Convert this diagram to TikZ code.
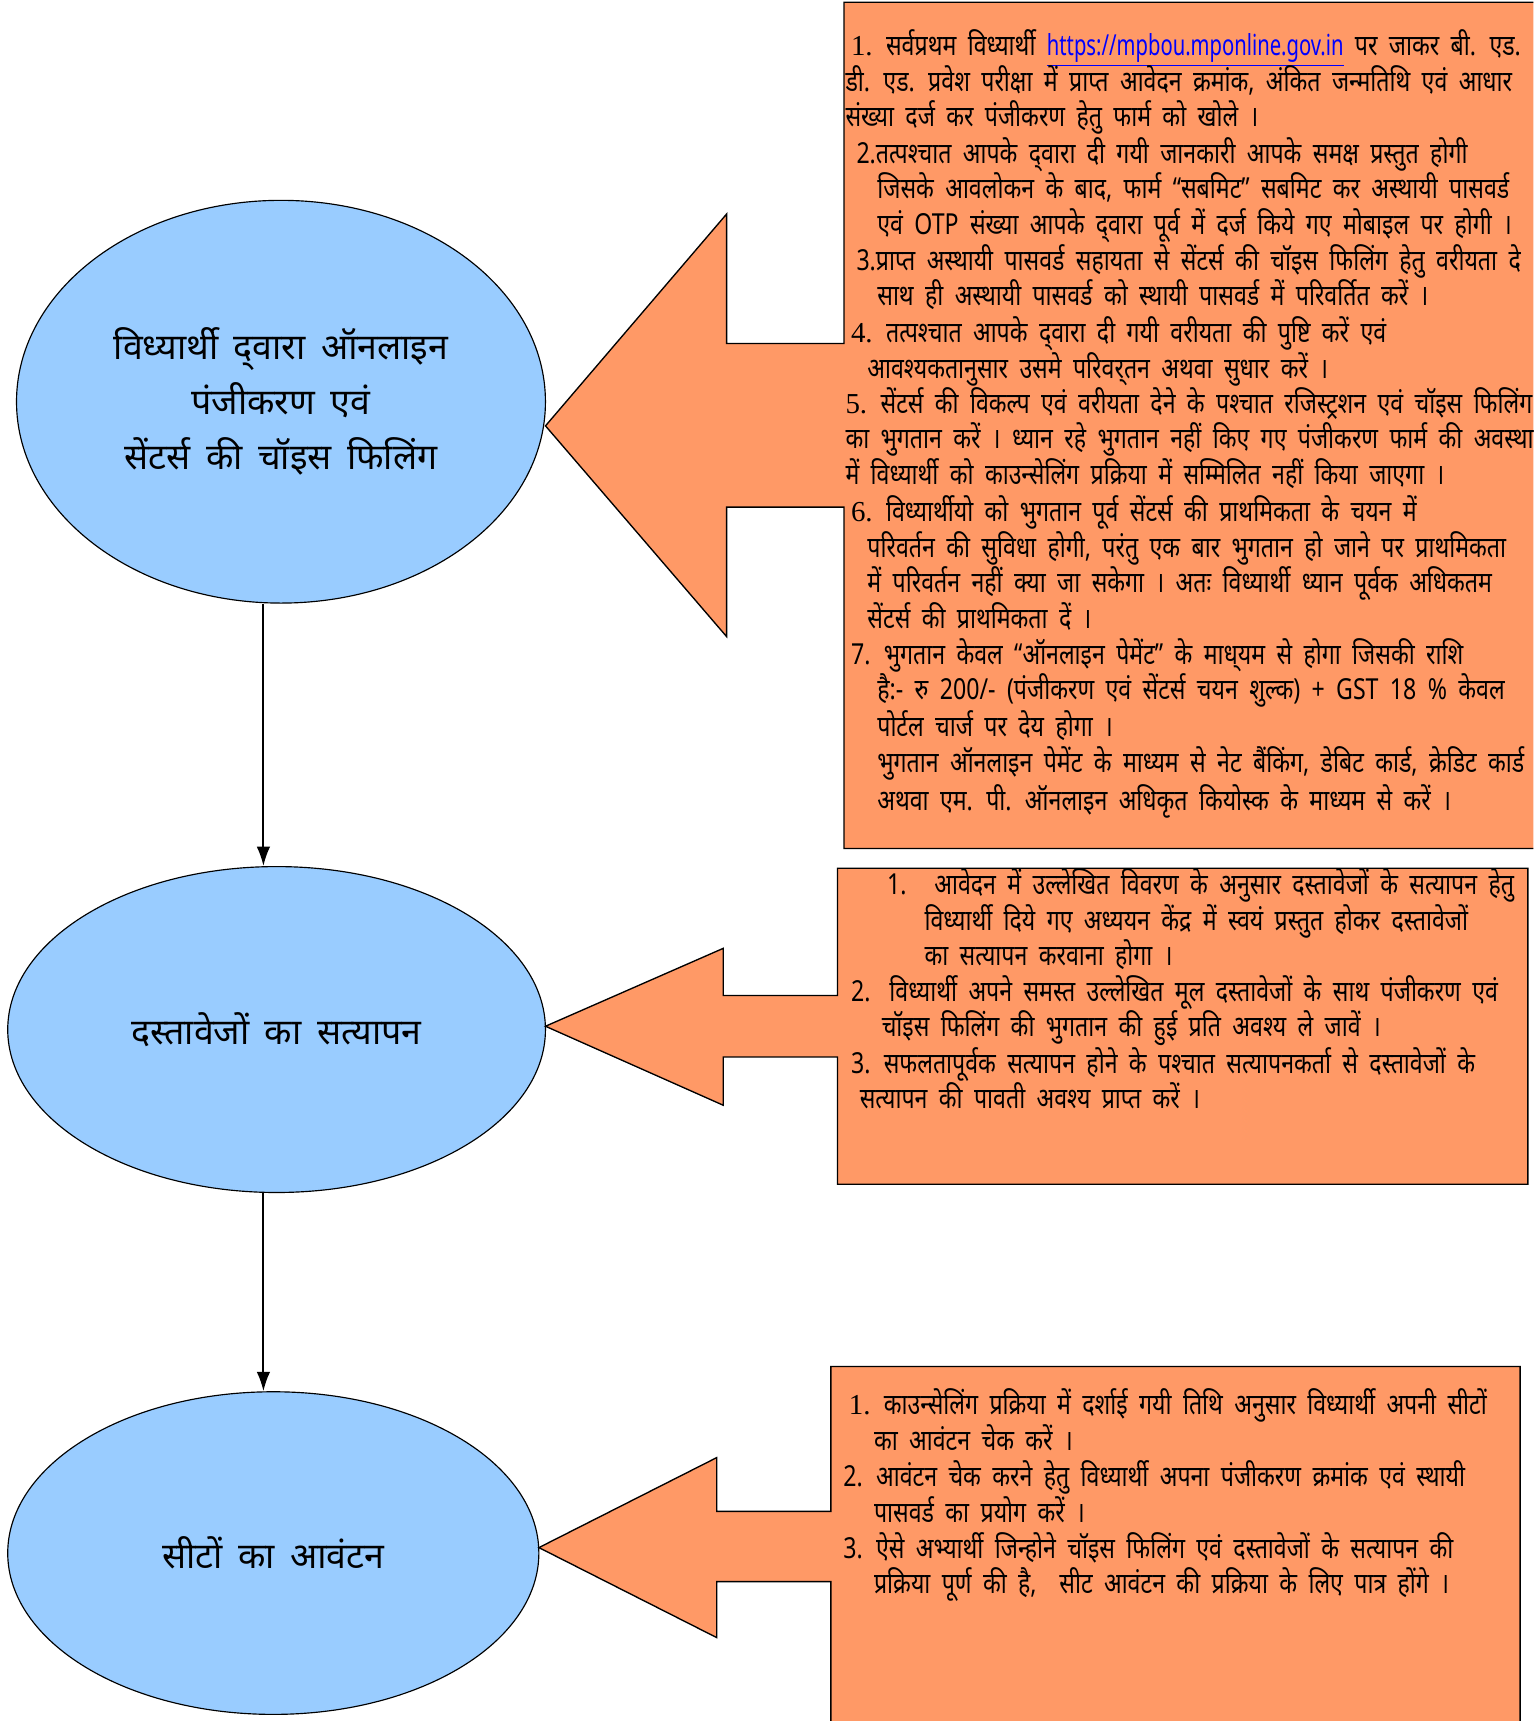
\documentclass[tikz,border=0pt]{standalone}
\usepackage{fontspec}
\usepackage{xcolor}
\setmainfont[Script=Devanagari]{Noto Sans}
\newfontfamily\boxfont[Script=Devanagari,FakeStretch=0.8]{Noto Sans}
\newfontfamily\linkfont[FakeStretch=0.7]{Noto Sans}
\newfontfamily\numfont{Liberation Serif}
\newcommand\stagefont{\fontsize{18.5}{28.5}\selectfont\spaceskip 8pt\relax}
\newcommand\notefont{\boxfont\fontsize{15}{18}\selectfont\spaceskip 5.9pt\relax}
\usetikzlibrary{arrows.meta,shapes.geometric,positioning}
\definecolor{stageblue}{RGB}{153,204,255}
\definecolor{noteorange}{RGB}{255,153,102}

\begin{document}
\begin{tikzpicture}
[x=0.02cm, y=-0.02cm,
% STYLES
% The stage style is used for the blue ellipses of the three steps
stage/.style={ellipse, draw, line width=0.6pt, fill=stageblue, inner sep=0pt, align=center, font=\stagefont},
% The note style is used for one line of text in an orange box
note/.style={anchor=mid west, inner sep=0pt, font=\notefont},
% The callout style is used for an orange box together with its arrow
callout/.style={draw, fill=noteorange, line width=0.7pt, line join=miter},
flow/.style={-{Latex[length=10pt,width=7pt]}, line width=1pt}]

\useasboundingbox (0,0) rectangle (1397,1568);
\clip (0,0) rectangle (1397,1568);

% Draw stages
\node [stage, minimum width=9.64cm, minimum height=7.34cm] (reg) at (256,366) {विध्यार्थी द्‌वारा ऑनलाइन\\ पंजीकरण एवं\\ सेंटर्स की चॉइस फिलिंग};
\node [stage, minimum width=9.8cm, minimum height=5.94cm] (verify) at (252,938) {दस्तावेजों का सत्यापन};
\node [stage, minimum width=9.68cm, minimum height=5.88cm] (allot) at (249,1415) {सीटों का आवंटन};

% Draw the boxes with their arrows
\path [callout] (769,2) -- (1420,2) -- (1420,773) -- (769,773) -- (769,462) -- (662,462) -- (662,580) -- (497,388) -- (662,195) -- (662,313) -- (769,313) -- cycle;
\path [callout] (763,791) -- (1392,791) -- (1392,1079) -- (763,1079) -- (763,963) -- (659,963) -- (659,1007) -- (497,935) -- (659,864) -- (659,907) -- (763,907) -- cycle;
\path [callout] (757,1245) -- (1385,1245) -- (1385,1600) -- (757,1600) -- (757,1441) -- (653,1441) -- (653,1492) -- (491,1410) -- (653,1328) -- (653,1377) -- (757,1377) -- cycle;

%%%%%%%%%%%%%%%
% Change data from here

% reg
\node [note] (r1) at (775,46) {{\numfont 1.} सर्वप्रथम विध्यार्थी \textcolor{blue}{\underline{\linkfont https://mpbou.mponline.gov.in}} पर जाकर बी. एड. एवं};
\node [note] (r2) at (770,79) {डी. एड. प्रवेश परीक्षा में प्राप्त आवेदन क्रमांक, अंकित जन्मतिथि एवं आधार};
\node [note] (r3) at (770,111) {संख्या दर्ज कर पंजीकरण हेतु फार्म को खोले ।};
\node [note] (r4) at (780,144) {2.तत्पश्चात आपके द्‌वारा दी गयी जानकारी आपके समक्ष प्रस्तुत होगी};
\node [note] (r5) at (799,176) {जिसके आवलोकन के बाद, फार्म “सबमिट” सबमिट कर अस्थायी पासवर्ड};
\node [note] (r6) at (799,209) {एवं OTP संख्या आपके द्‌वारा पूर्व में दर्ज किये गए मोबाइल पर होगी ।};
\node [note] (r7) at (780,242) {3.प्राप्त अस्थायी पासवर्ड सहायता से सेंटर्स की चॉइस फिलिंग हेतु वरीयता दे};
\node [note] (r8) at (799,274) {साथ ही अस्थायी पासवर्ड को स्थायी पासवर्ड में परिवर्तित करें ।};
\node [note] (r9) at (775,307) {{\numfont 4.} तत्पश्चात आपके द्‌वारा दी गयी वरीयता की पुष्टि करें एवं};
\node [note] (r10) at (790,340) {आवश्यकतानुसार उसमे परिवर्‌तन अथवा सुधार करें ।};
\node [note] (r11) at (770,372) {{\numfont 5.} सेंटर्स की विकल्प एवं वरीयता देने के पश्चात रजिस्ट्रशन एवं चॉइस फिलिंग};
\node [note] (r12) at (770,404) {का भुगतान करें । ध्यान रहे भुगतान नहीं किए गए पंजीकरण फार्म की अवस्था};
\node [note] (r13) at (770,437) {में विध्यार्थी को काउन्सेलिंग प्रक्रिया में सम्मिलित नहीं किया जाएगा ।};
\node [note] (r14) at (775,470) {{\numfont 6.} विध्यार्थीयो को भुगतान पूर्व सेंटर्स की प्राथमिकता के चयन में};
\node [note] (r15) at (790,503) {परिवर्तन की सुविधा होगी, परंतु एक बार भुगतान हो जाने पर प्राथमिकता};
\node [note] (r16) at (790,535) {में परिवर्तन नहीं क्या जा सकेगा । अतः विध्यार्थी ध्यान पूर्वक अधिकतम};
\node [note] (r17) at (790,568) {सेंटर्स की प्राथमिकता दें ।};
\node [note] (r18) at (775,601) {7. भुगतान केवल “ऑनलाइन पेमेंट” के माध्‌यम से होगा जिसकी राशि};
\node [note] (r19) at (799,633) {है:- रु 200/- (पंजीकरण एवं सेंटर्स चयन शुल्क) + GST 18 \% केवल};
\node [note] (r20) at (799,666) {पोर्टल चार्ज पर देय होगा ।};
\node [note] (r21) at (799,699) {भुगतान ऑनलाइन पेमेंट के माध्यम से नेट बैंकिंग, डेबिट कार्ड, क्रेडिट कार्ड};
\node [note] (r22) at (799,734) {अथवा एम. पी. ऑनलाइन अधिकृत कियोस्क के माध्यम से करें ।};

% verify
\node [note] (v1) at (808,810) {\makebox[0.86cm][l]{1.}आवेदन में उल्लेखित विवरण के अनुसार दस्तावेजों के सत्यापन हेतु};
\node [note] (v2) at (842,843) {विध्यार्थी दिये गए अध्ययन केंद्र में स्वयं प्रस्तुत होकर दस्तावेजों};
\node [note] (v3) at (842,875) {का सत्यापन करवाना होगा ।};
\node [note] (v4) at (775,908) {\makebox[0.7cm][l]{2.}विध्यार्थी अपने समस्त उल्लेखित मूल दस्तावेजों के साथ पंजीकरण एवं};
\node [note] (v5) at (803,940) {चॉइस फिलिंग की भुगतान की हुई प्रति अवश्य ले जावें ।};
\node [note] (v6) at (775,973) {3. सफलतापूर्वक सत्यापन होने के पश्चात सत्यापनकर्ता से दस्तावेजों के};
\node [note] (v7) at (783,1005) {सत्यापन की पावती अवश्य प्राप्त करें ।};

% allot
\node [note] (a1) at (773,1284) {{\numfont 1.} काउन्सेलिंग प्रक्रिया में दर्शाई गयी तिथि अनुसार विध्यार्थी अपनी सीटों};
\node [note] (a2) at (796,1317) {का आवंटन चेक करें ।};
\node [note] (a3) at (768,1350) {2. आवंटन चेक करने हेतु विध्यार्थी अपना पंजीकरण क्रमांक एवं स्थायी};
\node [note] (a4) at (796,1382) {पासवर्ड का प्रयोग करें ।};
\node [note] (a5) at (768,1415) {3. ऐसे अभ्यार्थी जिन्होने चॉइस फिलिंग एवं दस्तावेजों के सत्यापन की};
\node [note] (a6) at (796,1447) {प्रक्रिया पूर्ण की है,\ \ सीट आवंटन की प्रक्रिया के लिए पात्र होंगे ।};

%%%%%%%%%%%%%%%

% Draw the links between stages
\coordinate (axis) at (240,0);
\draw [flow] (reg.south -| axis) -- (verify.north -| axis);
\draw [flow] (verify.south -| axis) -- (allot.north -| axis);

\end{tikzpicture}
\end{document}
